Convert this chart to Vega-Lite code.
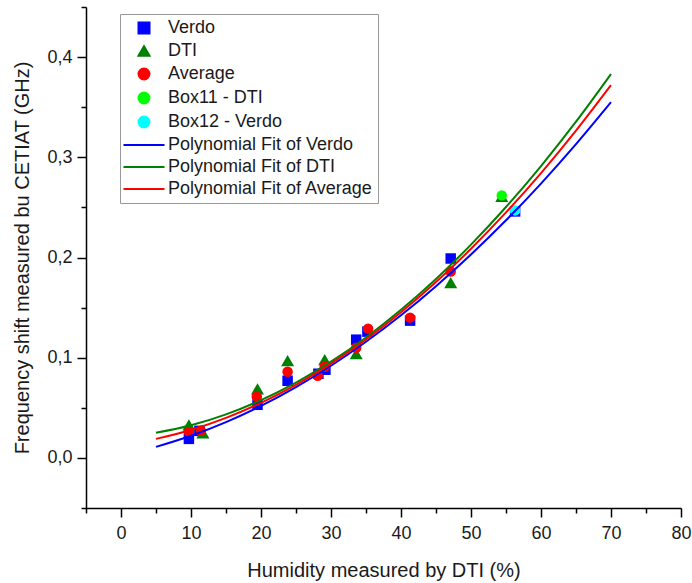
{
  "$schema": "https://vega.github.io/schema/vega-lite/v6.json",
  "width": 595,
  "height": 501,
  "autosize": {"type": "none"},
  "padding": {"left": 86, "top": 7, "right": 11, "bottom": 75},
  "background": "white",
  "config": {
    "view": {"stroke": null},
    "font": "Liberation Sans",
    "axis": {
      "grid": false,
      "domainColor": "black",
      "domainWidth": 1.5,
      "tickColor": "black",
      "tickWidth": 1.5,
      "labelColor": "#1a1a1a",
      "titleColor": "#1a1a1a",
      "labelFont": "Liberation Sans",
      "titleFont": "Liberation Sans",
      "labelFontSize": 18,
      "titleFontSize": 20,
      "titleFontWeight": "normal",
      "labelFlush": false,
      "labelOverlap": false
    },
    "legend": {
      "orient": "none",
      "legendX": 34,
      "legendY": 7,
      "strokeColor": "#999999",
      "strokeWidth": 1,
      "fillColor": "white",
      "padding": 5,
      "labelFont": "Liberation Sans",
      "labelFontSize": 18,
      "labelColor": "#1a1a1a",
      "labelOffset": 15,
      "labelLimit": 0,
      "symbolSize": 121,
      "symbolOffset": 10,
      "symbolStrokeWidth": 2,
      "symbolOpacity": 1,
      "rowPadding": 4
    }
  },
  "datasets": {
    "pts": [
      {"series": "Verdo", "x": 9.7, "y": 0.019},
      {"series": "Verdo", "x": 11.2, "y": 0.027},
      {"series": "Verdo", "x": 19.5, "y": 0.053},
      {"series": "Verdo", "x": 23.8, "y": 0.077},
      {"series": "Verdo", "x": 28.2, "y": 0.084},
      {"series": "Verdo", "x": 29.2, "y": 0.088},
      {"series": "Verdo", "x": 33.6, "y": 0.118},
      {"series": "Verdo", "x": 35.2, "y": 0.126},
      {"series": "Verdo", "x": 41.3, "y": 0.137},
      {"series": "Verdo", "x": 47.1, "y": 0.199},
      {"series": "Verdo", "x": 56.3, "y": 0.246},
      {"series": "DTI", "x": 9.7, "y": 0.033},
      {"series": "DTI", "x": 11.7, "y": 0.025},
      {"series": "DTI", "x": 19.5, "y": 0.069},
      {"series": "DTI", "x": 23.8, "y": 0.097},
      {"series": "DTI", "x": 29.1, "y": 0.098},
      {"series": "DTI", "x": 33.6, "y": 0.104},
      {"series": "DTI", "x": 47.1, "y": 0.175},
      {"series": "DTI", "x": 54.4, "y": 0.261},
      {"series": "Average", "x": 9.7, "y": 0.026},
      {"series": "Average", "x": 11.4, "y": 0.027},
      {"series": "Average", "x": 19.4, "y": 0.061},
      {"series": "Average", "x": 23.8, "y": 0.086},
      {"series": "Average", "x": 28.1, "y": 0.082},
      {"series": "Average", "x": 29.1, "y": 0.091},
      {"series": "Average", "x": 33.6, "y": 0.11},
      {"series": "Average", "x": 35.3, "y": 0.129},
      {"series": "Average", "x": 41.3, "y": 0.14},
      {"series": "Average", "x": 47.1, "y": 0.186},
      {"series": "Box11 - DTI", "x": 54.4, "y": 0.262},
      {"series": "Box12 - Verdo", "x": 56.3, "y": 0.247}
    ],
    "fits": [
      {"series": "Polynomial Fit of Verdo", "x": 5, "y": 0.011},
      {"series": "Polynomial Fit of Verdo", "x": 10, "y": 0.0221},
      {"series": "Polynomial Fit of Verdo", "x": 15, "y": 0.0357},
      {"series": "Polynomial Fit of Verdo", "x": 20, "y": 0.0519},
      {"series": "Polynomial Fit of Verdo", "x": 25, "y": 0.0707},
      {"series": "Polynomial Fit of Verdo", "x": 30, "y": 0.092},
      {"series": "Polynomial Fit of Verdo", "x": 35, "y": 0.1159},
      {"series": "Polynomial Fit of Verdo", "x": 40, "y": 0.1423},
      {"series": "Polynomial Fit of Verdo", "x": 45, "y": 0.1714},
      {"series": "Polynomial Fit of Verdo", "x": 50, "y": 0.203},
      {"series": "Polynomial Fit of Verdo", "x": 55, "y": 0.2371},
      {"series": "Polynomial Fit of Verdo", "x": 60, "y": 0.2738},
      {"series": "Polynomial Fit of Verdo", "x": 65, "y": 0.3131},
      {"series": "Polynomial Fit of Verdo", "x": 70, "y": 0.355},
      {"series": "Polynomial Fit of DTI", "x": 5, "y": 0.025},
      {"series": "Polynomial Fit of DTI", "x": 10, "y": 0.0325},
      {"series": "Polynomial Fit of DTI", "x": 15, "y": 0.0434},
      {"series": "Polynomial Fit of DTI", "x": 20, "y": 0.0576},
      {"series": "Polynomial Fit of DTI", "x": 25, "y": 0.0751},
      {"series": "Polynomial Fit of DTI", "x": 30, "y": 0.096},
      {"series": "Polynomial Fit of DTI", "x": 35, "y": 0.1202},
      {"series": "Polynomial Fit of DTI", "x": 40, "y": 0.1478},
      {"series": "Polynomial Fit of DTI", "x": 45, "y": 0.1786},
      {"series": "Polynomial Fit of DTI", "x": 50, "y": 0.2129},
      {"series": "Polynomial Fit of DTI", "x": 55, "y": 0.2504},
      {"series": "Polynomial Fit of DTI", "x": 60, "y": 0.2913},
      {"series": "Polynomial Fit of DTI", "x": 65, "y": 0.3355},
      {"series": "Polynomial Fit of DTI", "x": 70, "y": 0.3831},
      {"series": "Polynomial Fit of Average", "x": 5, "y": 0.019},
      {"series": "Polynomial Fit of Average", "x": 10, "y": 0.0279},
      {"series": "Polynomial Fit of Average", "x": 15, "y": 0.0399},
      {"series": "Polynomial Fit of Average", "x": 20, "y": 0.0549},
      {"series": "Polynomial Fit of Average", "x": 25, "y": 0.0729},
      {"series": "Polynomial Fit of Average", "x": 30, "y": 0.094},
      {"series": "Polynomial Fit of Average", "x": 35, "y": 0.1181},
      {"series": "Polynomial Fit of Average", "x": 40, "y": 0.1453},
      {"series": "Polynomial Fit of Average", "x": 45, "y": 0.1755},
      {"series": "Polynomial Fit of Average", "x": 50, "y": 0.2087},
      {"series": "Polynomial Fit of Average", "x": 55, "y": 0.245},
      {"series": "Polynomial Fit of Average", "x": 60, "y": 0.2843},
      {"series": "Polynomial Fit of Average", "x": 65, "y": 0.3267},
      {"series": "Polynomial Fit of Average", "x": 70, "y": 0.3721}
    ]
  },
  "layer": [
    {
      "data": {"name": "pts"},
      "mark": {"type": "point", "filled": true, "opacity": 1, "strokeWidth": 0},
      "encoding": {
        "x": {
          "field": "x", "type": "quantitative",
          "scale": {"domain": [-5, 80], "nice": false, "zero": false},
          "axis": {"orient": "bottom", "values": [0, 10, 20, 30, 40, 50, 60, 70, 80], "tickSize": 9, "labelPadding": 7, "title": "Humidity measured by DTI (%)", "titlePadding": 18}
        },
        "y": {
          "field": "y", "type": "quantitative",
          "scale": {"domain": [-0.05, 0.45], "nice": false, "zero": false},
          "axis": {"orient": "left", "values": [0, 0.1, 0.2, 0.3, 0.4], "tickSize": 9, "labelPadding": 5, "labelExpr": "replace(format(datum.value, '.1f'), '.', ',')", "title": "Frequency shift measured bu CETIAT (GHz)", "titlePadding": 14}
        },
        "fill": {
          "field": "series", "type": "nominal",
          "scale": {
            "domain": ["Verdo", "DTI", "Average", "Box11 - DTI", "Box12 - Verdo", "Polynomial Fit of Verdo", "Polynomial Fit of DTI", "Polynomial Fit of Average"],
            "range": ["#0000ff", "#008000", "#ff0000", "#00ff00", "#00ffff", "#0000ff", "#008000", "#ff0000"]
          },
          "legend": {"title": null}
        },
        "shape": {
          "field": "series", "type": "nominal",
          "scale": {
            "domain": ["Verdo", "DTI", "Average", "Box11 - DTI", "Box12 - Verdo", "Polynomial Fit of Verdo", "Polynomial Fit of DTI", "Polynomial Fit of Average"],
            "range": ["square", "triangle-up", "circle", "circle", "circle", "M-3.73,0L3.73,0", "M-3.73,0L3.73,0", "M-3.73,0L3.73,0"]
          },
          "legend": {"title": null}
        },
        "size": {
          "condition": {"test": "datum.series === 'DTI'", "value": 169},
          "value": 110
        }
      }
    },
    {
      "data": {"name": "fits"},
      "mark": {"type": "line", "strokeWidth": 2, "interpolate": "monotone"},
      "encoding": {
        "x": {
          "field": "x", "type": "quantitative",
          "axis": {"orient": "bottom", "values": [-5, 5, 15, 25, 35, 45, 55, 65, 75], "tickSize": 5, "labels": false, "domain": false, "title": null}
        },
        "y": {
          "field": "y", "type": "quantitative",
          "axis": {"orient": "left", "values": [-0.05, 0.05, 0.15, 0.25, 0.35, 0.45], "tickSize": 5, "labels": false, "domain": false, "title": null}
        },
        "stroke": {
          "field": "series", "type": "nominal",
          "scale": {
            "domain": ["Verdo", "DTI", "Average", "Box11 - DTI", "Box12 - Verdo", "Polynomial Fit of Verdo", "Polynomial Fit of DTI", "Polynomial Fit of Average"],
            "range": ["#0000ff", "#008000", "#ff0000", "#00ff00", "#00ffff", "#0000ff", "#008000", "#ff0000"]
          },
          "legend": {"title": null}
        }
      }
    }
  ],
  "resolve": {"axis": {"x": "independent", "y": "independent"}}
}
